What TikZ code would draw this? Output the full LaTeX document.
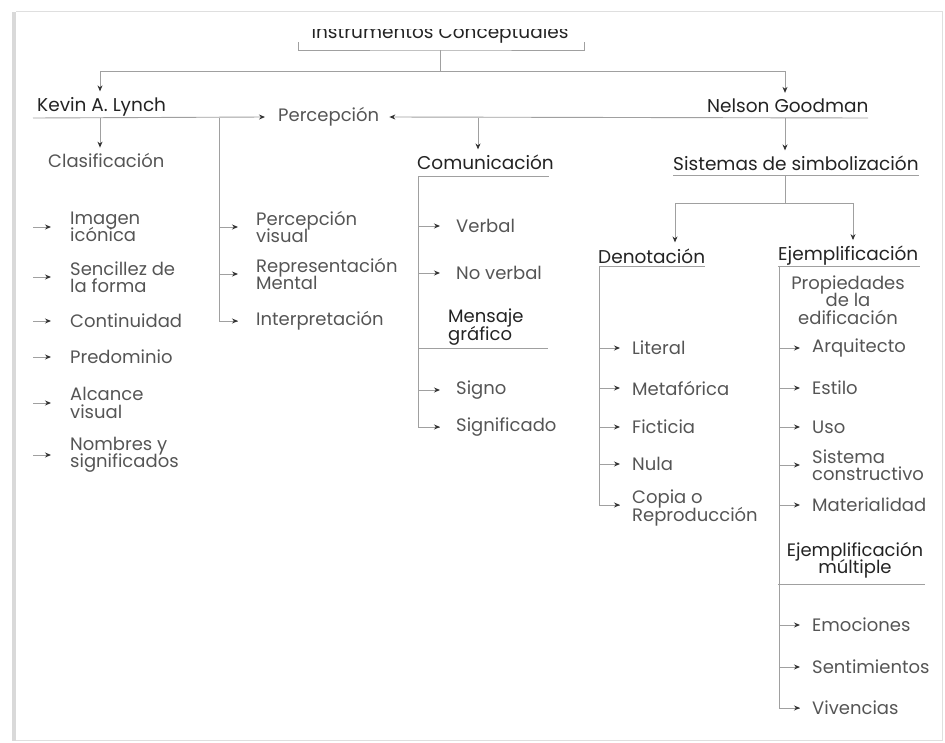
\documentclass[tikz,border=0pt]{standalone}
\usepackage{fontspec}
\setmainfont{Poppins}
\usetikzlibrary{arrows.meta}
\definecolor{gris}{RGB}{160,160,160}
\definecolor{pointe}{RGB}{50,50,50}
\definecolor{encre}{RGB}{35,35,35}
\definecolor{texte}{RGB}{85,85,85}

\begin{document}
\begin{tikzpicture}[x=1pt,y=-1pt]
\tikzset{trait/.style={draw=gris, line width=0.9pt},
  fleche/.style={trait, -{Stealth[length=6pt,width=5pt,color=pointe]}},
  entete/.style={anchor=west, inner sep=0pt, text=encre, font=\fontsize{18.5}{18}\selectfont},
  feuille/.style={anchor=west, inner sep=0pt, text=texte, align=left,
    font={\fontsize{18}{17.5}\selectfont\lineskiplimit-20pt\relax}}}
\useasboundingbox (0,0) rectangle (945,742);
% page
\fill[gray!30] (12,12) rectangle (16,741);
\draw[gray!25, line width=0.8pt] (16,11) -- (942,11) -- (942,740) -- (16,740);
\begin{scope}
\clip (16,29) rectangle (933,740);
% titre
\node[entete, anchor=base] (titre) at (440,38) {Instrumentos Conceptuales};
\coordinate (tg) at (298,42);
\coordinate (td) at (584,42);
\coordinate (tc) at (440,50);
\coordinate (tb) at (440,71);
% auteurs
\node[entete] (kevin) at (37,107) {Kevin A. Lynch};
\node[entete] (nelson) at (707,106) {Nelson Goodman};
\node[feuille] (percep) at (278,117) {Percepción};
\coordinate (k0) at (33,118);
\coordinate (n0) at (868,118);
\coordinate (kb) at (100,118);
\coordinate (pm) at (219,118);
\coordinate (cb) at (478,118);
\coordinate (nb) at (785,118);
\node[feuille] (clasif) at (48,160) {Clasificación};
\node[entete] (comun) at (417,162) {Comunicación};
\node[entete] (sistemas) at (673,163) {Sistemas de simbolización};
% Lynch
\node[feuille] (L1) at (70,227) {Imagen\\icónica};
\node[feuille] (L2) at (70,277) {Sencillez de\\la forma};
\node[feuille] (L3) at (70,321) {Continuidad};
\node[feuille] (L4) at (70,357) {Predominio};
\node[feuille] (L5) at (70,403) {Alcance\\visual};
\node[feuille] (L6) at (70,455) {Nombres y\\significados};
\node[feuille] (P1) at (256,227) {Percepción\\visual};
\node[feuille] (P2) at (256,274) {Representación\\Mental};
\node[feuille] (P3) at (256,321) {Interpretación};
% comunicacion
\node[feuille] (C1) at (456,226) {Verbal};
\node[feuille] (C2) at (456,273) {No verbal};
\node[feuille, text=encre] (mensaje) at (448,327) {Mensaje\\gráfico};
\node[feuille] (C3) at (456,390) {Signo};
\node[feuille] (C4) at (456,427) {Significado};
\coordinate (cs) at (418,176);
\coordinate (cm) at (418,348);
% simbolizacion
\coordinate (sb) at (785,175);
\coordinate (sh) at (785,203);
\node[entete] (deno) at (598,256) {Denotación};
\node[entete] (ejemp) at (778,256) {Ejemplificación};
\coordinate (ds) at (599,266);
\coordinate (es) at (779,266);
\node[feuille] (D1) at (632,348) {Literal};
\node[feuille] (D2) at (632,388) {Metafórica};
\node[feuille] (D3) at (632,427) {Ficticia};
\node[feuille] (D4) at (632,464) {Nula};
\node[feuille] (D5) at (632,508) {Copia o\\Reproducción};
\node[feuille, anchor=center, align=center] (prop) at (848,300) {Propiedades\\de la\\edificación};
\node[feuille] (E1) at (812,348) {Arquitecto};
\node[feuille] (E2) at (812,388) {Estilo};
\node[feuille] (E3) at (812,427) {Uso};
\node[feuille] (E4) at (812,465) {Sistema\\constructivo};
\node[feuille] (E5) at (812,505) {Materialidad};
\node[feuille, text=encre, anchor=center, align=center] (multiple) at (855,560) {Ejemplificación\\múltiple};
\node[feuille] (E6) at (812,625) {Emociones};
\node[feuille] (E7) at (812,667) {Sentimientos};
\node[feuille] (E8) at (812,708) {Vivencias};
\end{scope}
% liens
\draw[trait] (tg) |- (tc) -| (td);
\draw[trait] (tc) -- (tb);
\draw[fleche] (tb) -| ([yshift=6pt]kevin.north -| kb);
\draw[fleche] (tb) -| ([yshift=6pt]nelson.north -| nb);
\draw[fleche] (k0) -- ([xshift=-13pt]percep.west);
\draw[fleche] (n0) -- ([xshift=10pt]percep.east);
\draw[fleche] (kb) -- ([yshift=5pt]clasif.north -| kb);
\draw[fleche] (cb) -- ([yshift=5pt]comun.north -| cb);
\draw[fleche] (nb) -- ([yshift=5pt]sistemas.north -| nb);
\foreach \n in {L1,L2,L3,L4,L5,L6}
  \draw[fleche] ([xshift=-37pt]\n.west) -- ([xshift=-19pt]\n.west);
\draw[trait] (pm) |- ([xshift=-18pt]P3.west);
\foreach \n in {P1,P2,P3}
  \draw[fleche] (pm |- \n.west) -- ([xshift=-18pt]\n.west);
% comunicacion
\draw[trait] (cs) -- ([xshift=131pt]cs);
\draw[trait] (cs) |- ([xshift=-16pt]C4.west);
\draw[trait] (cm) -- ([xshift=130pt]cm);
\foreach \n in {C1,C2,C3,C4}
  \draw[fleche] (cs |- \n.west) -- ([xshift=-16pt]\n.west);
% simbolizacion
\draw[trait] ([xshift=-112pt]sb) -- ([xshift=134pt]sb);
\draw[trait] (sb) -- (sh);
\draw[fleche] (sh) -| ([yshift=6pt]deno.north -| 675,0);
\draw[fleche] (sh) -| ([yshift=6pt]ejemp.north -| 853,0);
\draw[trait] (ds) -- ([xshift=106pt]ds);
\draw[trait] ([xshift=-1pt]es) -- ([xshift=141pt]es);
\draw[trait] (ds) |- ([xshift=-12pt]D5.west |- 0,505);
\foreach \n in {D1,D2,D3,D4}
  \draw[fleche] (ds |- \n.west) -- ([xshift=-12pt]\n.west);
\draw[fleche] ([xshift=-14pt]D5.west |- 0,505) -- ([xshift=-12pt]D5.west |- 0,505);
\draw[trait] (es) |- ([xshift=-12pt]E8.west);
\draw[trait] ([xshift=-1pt]es |- 0,584) -- (925,584);
\foreach \n in {E1,E2,E3,E4,E5,E6,E7,E8}
  \draw[fleche] (es |- \n.west) -- ([xshift=-12pt]\n.west);
\end{tikzpicture}
\end{document}
